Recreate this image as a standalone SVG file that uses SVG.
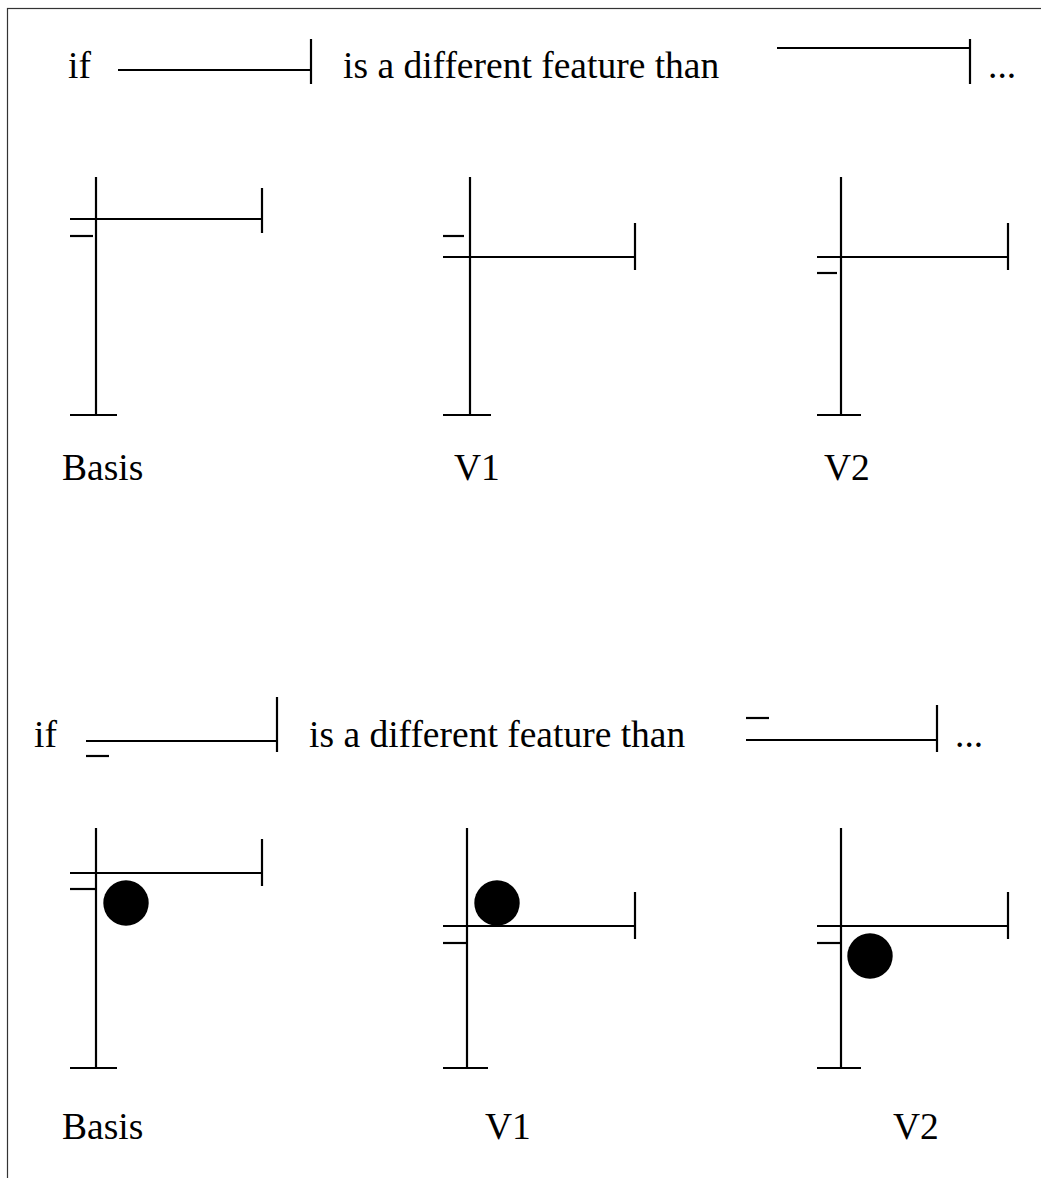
<svg xmlns="http://www.w3.org/2000/svg" width="1041" height="1178" viewBox="0 0 1041 1178">
<style>
  .ln { stroke: #000; stroke-width: 2.2; fill: none; }
  .dot { fill: #000; }
  text { font-family: 'Liberation Serif', serif; font-size: 37.5px; fill: #000; }
</style>
<rect x="0" y="0" width="1041" height="1178" fill="#fff"/>
<rect x="7.5" y="8.5" width="1100" height="1200" fill="none" stroke="#333" stroke-width="1.2"/>

<g id="header-top">
  <text x="68" y="78">if</text>
  <line class="ln" x1="118" y1="70" x2="311" y2="70"/>
  <line class="ln" x1="311" y1="39" x2="311" y2="84"/>
  <text x="343" y="78">is a different feature than</text>
  <line class="ln" x1="777" y1="48" x2="970" y2="48"/>
  <line class="ln" x1="970" y1="39" x2="970" y2="84"/>
  <text x="988" y="78">...</text>
</g>

<g id="top-basis">
  <line class="ln" x1="96" y1="177" x2="96" y2="415"/>
  <line class="ln" x1="70" y1="219" x2="262" y2="219"/>
  <line class="ln" x1="262" y1="188" x2="262" y2="233"/>
  <line class="ln" x1="70" y1="236" x2="93" y2="236"/>
  <line class="ln" x1="70" y1="415" x2="117" y2="415"/>
  <text x="62" y="480">Basis</text>
</g>
<g id="top-v1">
  <line class="ln" x1="470" y1="177" x2="470" y2="415"/>
  <line class="ln" x1="443" y1="257" x2="635" y2="257"/>
  <line class="ln" x1="635" y1="223" x2="635" y2="270"/>
  <line class="ln" x1="443" y1="236" x2="464" y2="236"/>
  <line class="ln" x1="443" y1="415" x2="491" y2="415"/>
  <text x="454" y="480">V1</text>
</g>
<g id="top-v2">
  <line class="ln" x1="841" y1="177" x2="841" y2="415"/>
  <line class="ln" x1="817" y1="257" x2="1008" y2="257"/>
  <line class="ln" x1="1008" y1="223" x2="1008" y2="270"/>
  <line class="ln" x1="817" y1="273" x2="837" y2="273"/>
  <line class="ln" x1="817" y1="415" x2="861" y2="415"/>
  <text x="824" y="480">V2</text>
</g>

<g id="header-bottom">
  <text x="34" y="747">if</text>
  <line class="ln" x1="86" y1="741" x2="277" y2="741"/>
  <line class="ln" x1="277" y1="697" x2="277" y2="752"/>
  <line class="ln" x1="86" y1="756" x2="109" y2="756"/>
  <text x="309" y="747">is a different feature than</text>
  <line class="ln" x1="746" y1="718" x2="769" y2="718"/>
  <line class="ln" x1="746" y1="740" x2="937" y2="740"/>
  <line class="ln" x1="937" y1="705" x2="937" y2="752"/>
  <text x="955" y="747">...</text>
</g>

<g id="bottom-basis">
  <line class="ln" x1="96" y1="828" x2="96" y2="1068"/>
  <line class="ln" x1="70" y1="873" x2="262" y2="873"/>
  <line class="ln" x1="262" y1="839" x2="262" y2="886"/>
  <line class="ln" x1="70" y1="889" x2="95" y2="889"/>
  <line class="ln" x1="70" y1="1068" x2="117" y2="1068"/>
  <circle class="dot" cx="126" cy="903" r="22.7"/>
  <text x="62" y="1139">Basis</text>
</g>
<g id="bottom-v1">
  <line class="ln" x1="467" y1="828" x2="467" y2="1068"/>
  <line class="ln" x1="443" y1="926" x2="635" y2="926"/>
  <line class="ln" x1="635" y1="892" x2="635" y2="939"/>
  <line class="ln" x1="443" y1="943" x2="466" y2="943"/>
  <line class="ln" x1="443" y1="1068" x2="488" y2="1068"/>
  <circle class="dot" cx="497" cy="903" r="22.7"/>
  <text x="485" y="1139">V1</text>
</g>
<g id="bottom-v2">
  <line class="ln" x1="841" y1="828" x2="841" y2="1068"/>
  <line class="ln" x1="817" y1="926" x2="1008" y2="926"/>
  <line class="ln" x1="1008" y1="892" x2="1008" y2="939"/>
  <line class="ln" x1="817" y1="943" x2="840" y2="943"/>
  <line class="ln" x1="817" y1="1068" x2="861" y2="1068"/>
  <circle class="dot" cx="870" cy="956" r="22.7"/>
  <text x="893" y="1139">V2</text>
</g>
<g id="connectors"></g>
</svg>
